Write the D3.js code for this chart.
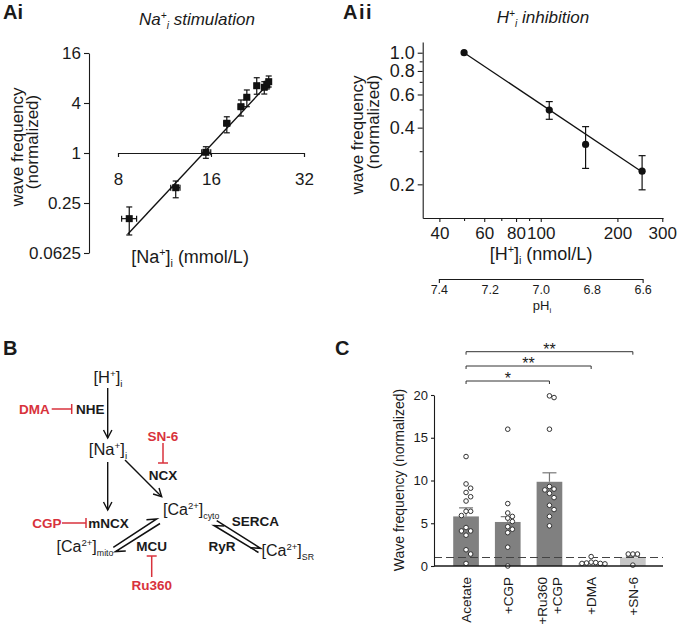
<!DOCTYPE html>
<html><head><meta charset="utf-8">
<script src="https://cdn.jsdelivr.net/npm/d3@7"></script>
<style>body{margin:0;background:#fff}svg{display:block}text{font-family:"Liberation Sans",Arial,Helvetica,sans-serif;fill:#1a1a1a}</style>
</head><body><svg id="c" width="680" height="627"></svg>
<script>
// ---------- DATA ----------
// Panel Ai: Na+ stimulation
const naConc   = [8.7, 12.3, 15.4, 18.0, 20.0, 20.9, 22.5, 23.8, 24.25, 24.6];
const naConcLo = [8.22, 11.85, 14.93, 17.6, 19.6, 20.5, 22.1, 23.4, 23.9, 24.2];
const naConcHi = [9.19, 12.7, 15.97, 18.4, 20.4, 21.3, 22.9, 24.2, 24.6, 25.0];
const naFreq   = [0.162, 0.382, 1.02, 2.28, 3.61, 4.69, 6.46, 6.19, 6.59, 7.22];
const naFreqLo = [0.103, 0.289, 0.863, 1.75, 2.79, 3.61, 5.1, 5.13, 5.9, 6.23];
const naFreqHi = [0.224, 0.46, 1.19, 2.73, 4.35, 5.74, 8.06, 7.22, 7.3, 8.46];
const naFitConc = [8.6, 23.6];
const naFitFreq = [0.105, 5.85];
const naTicksY = [0.0625, 0.25, 1, 4, 16];
const naTickLabelsY = ["0.0625", "0.25", "1", "4", "16"];
const naTicksX = [8, 16, 32];

// Panel Aii: H+ inhibition
const hConc   = [50, 108, 150, 250];
const hFreq   = [1.0, 0.496, 0.326, 0.235];
const hFreqLo = [1.0, 0.443, 0.243, 0.187];
const hFreqHi = [1.0, 0.55, 0.405, 0.284];
const hFitConc = [50, 246];
const hFitFreq = [1.0, 0.236];
const hTicksY = [0.2, 0.3, 0.4, 0.5, 0.6, 0.7, 0.8, 0.9, 1.0];
const hLabeledY = [0.2, 0.4, 0.6, 0.8, 1.0];
const hTicksX = [40, 50, 60, 70, 80, 90, 100, 200, 300];
const hLabeledX = [40, 60, 80, 100, 200, 300];
const phTicks = [7.4, 7.2, 7.0, 6.8, 6.6];

// Panel C
const cats = ["Acetate", "+CGP", "+Ru360 +CGP", "+DMA", "+SN-6"];
const catLines = [["Acetate"], ["+CGP"], ["+Ru360", "+CGP"], ["+DMA"], ["+SN-6"]];
const means = [5.8, 5.15, 9.85, 0.35, 1.0];
const sems  = [1.0, 0.62, 1.05, 0.1, 0.15];
const acetateDots = [12.8, 9.6, 9.1, 8.6, 8.1, 7.6, 6.4, 6.4, 5.9, 4.5, 4.1, 4.1, 3.6, 1.9, 1.4, 0.3];
const cgpDots     = [16.0, 7.3, 6.2, 5.8, 5.6, 5.2, 4.6, 4.3, 3.9, 2.2, 0.0];
const ruCgpDots   = [19.9, 19.7, 16.0, 9.3, 9.0, 8.9, 8.5, 8.0, 7.1, 6.6, 5.8, 4.7];
const dmaDots     = [1.1, 0.45, 0.4, 0.35, 0.3, 0.3, 0.25];
const sn6Dots     = [1.4, 1.4, 1.4, 0.1];
const groupDots = [acetateDots, cgpDots, ruCgpDots, dmaDots, sn6Dots];
const cTicks = [0, 5, 10, 15, 20];
const sigPairs = [["Acetate", "+Ru360 +CGP", "*"], ["Acetate", "+DMA", "**"], ["Acetate", "+SN-6", "**"]];

// ---------- HELPERS ----------
const svg = d3.select("#c");
const RED = "#d8323c";
function rich(sel, segs, size) {
  let shift = 0;
  segs.forEach(s => {
    const sh = s.sup ? -0.38 * size : s.sub ? 0.24 * size : 0;
    const fs = (s.sup || s.sub) ? size * (s.scale || 0.6) : size;
    sel.append("tspan").attr("font-size", fs).attr("dy", sh - shift).text(s.t);
    shift = sh;
  });
  return sel;
}
function label(x, y, segs, size, opts = {}) {
  const t = svg.append("text").attr("x", x).attr("y", y)
    .attr("text-anchor", opts.anchor || "start")
    .attr("font-size", size)
    .attr("font-weight", opts.bold ? "bold" : null)
    .attr("font-style", opts.italic ? "italic" : null)
    .attr("letter-spacing", opts.ls || null)
    .style("fill", opts.color || "#1a1a1a");
  if (opts.rotate) t.attr("transform", `rotate(${opts.rotate},${x},${y})`);
  if (typeof segs === "string") t.text(segs); else rich(t, segs, size);
  return t;
}
function styleAxis(g, fs) {
  g.selectAll("path,line").attr("stroke", "#1a1a1a").attr("stroke-width", 1.1);
  g.selectAll("text").attr("font-size", fs).style("fill", "#1a1a1a")
    .attr("font-family", '"Liberation Sans",Arial,sans-serif');
}

// ---------- PANEL Ai ----------
const xNa = d3.scaleLog().base(2).domain([8, 32]).range([118, 304]);
const yNa = d3.scaleLog().base(2).domain([0.0625, 16]).range([253, 53]);
{
  const gy = svg.append("g").attr("transform", "translate(89,0)")
    .call(d3.axisLeft(yNa).tickValues(naTicksY).tickFormat((d, i) => naTickLabelsY[i]).tickSize(5).tickSizeOuter(0).tickPadding(3));
  styleAxis(gy, 17);
  const gx = svg.append("g").attr("transform", `translate(0,${yNa(1)})`)
    .call(d3.axisBottom(xNa).tickValues(naTicksX).tickFormat(d3.format("d")).tickSize(4).tickSizeOuter(4).tickPadding(16));
  styleAxis(gx, 17);
  const g = svg.append("g");
  g.append("path").datum(naFitConc.map((c, i) => [c, naFitFreq[i]]))
    .attr("d", d3.line().x(d => xNa(d[0])).y(d => yNa(d[1])))
    .attr("stroke", "#111").attr("stroke-width", 1.4).attr("fill", "none");
  naConc.forEach((c, i) => {
    const x = xNa(c), y = yNa(naFreq[i]);
    const y1 = yNa(naFreqLo[i]), y2 = yNa(naFreqHi[i]);
    const x1 = xNa(naConcLo[i]), x2 = xNa(naConcHi[i]);
    const e = g.append("g").attr("stroke", "#111").attr("stroke-width", 1.2);
    e.append("line").attr("x1", x).attr("x2", x).attr("y1", y1).attr("y2", y2);
    e.append("line").attr("x1", x - 3).attr("x2", x + 3).attr("y1", y1).attr("y2", y1);
    e.append("line").attr("x1", x - 3).attr("x2", x + 3).attr("y1", y2).attr("y2", y2);
    e.append("line").attr("x1", x1).attr("x2", x2).attr("y1", y).attr("y2", y);
    e.append("line").attr("x1", x1).attr("x2", x1).attr("y1", y - 3).attr("y2", y + 3);
    e.append("line").attr("x1", x2).attr("x2", x2).attr("y1", y - 3).attr("y2", y + 3);
    g.append("rect").attr("x", x - 3.5).attr("y", y - 3.5).attr("width", 7).attr("height", 7).attr("fill", "#111");
  });
  label(3, 19, "Ai", 20, { bold: true });
  label(197, 25, [{ t: "Na" }, { t: "+", sup: 1 }, { t: "i", sub: 1 }, { t: " stimulation" }], 17, { anchor: "middle", italic: true });
  label(23, 147, "wave frequency", 17, { anchor: "middle", rotate: -90 });
  label(38, 142, "(normalized)", 17, { anchor: "middle", rotate: -90 });
  label(190, 263, [{ t: "[Na" }, { t: "+", sup: 1 }, { t: "]" }, { t: "i", sub: 1 }, { t: " (mmol/L)" }], 18, { anchor: "middle" });
}

// ---------- PANEL Aii ----------
const xH = d3.scaleLog().domain([34.4, 302]).range([422.7, 663]);
const yH = d3.scaleLog().domain([0.1325, 1.14]).range([218, 42]);
const xPH = d3.scaleLinear().domain([7.4, 6.6]).range([xH(Math.pow(10, 9 - 7.4)), xH(Math.pow(10, 9 - 6.6))]);
{
  const gy = svg.append("g").attr("transform", "translate(422.7,0)")
    .call(d3.axisLeft(yH).tickValues(hTicksY).tickFormat(d => hLabeledY.some(v => Math.abs(v - d) < 1e-9) ? d3.format(".1f")(d) : "").tickSize(5).tickSizeOuter(0).tickPadding(3));
  gy.selectAll(".tick").filter(d => !hLabeledY.some(v => Math.abs(v - d) < 1e-9)).select("line").attr("x2", -3);
  styleAxis(gy, 18);
  const gx = svg.append("g").attr("transform", "translate(0,218)")
    .call(d3.axisBottom(xH).tickValues(hTicksX).tickFormat(d => hLabeledX.includes(d) ? d : "").tickSize(4).tickSizeOuter(0).tickPadding(5));
  gx.selectAll(".tick").filter(d => !hLabeledX.includes(d)).select("line").attr("y2", 3);
  styleAxis(gx, 17);
  const gp = svg.append("g").attr("transform", "translate(0,279)")
    .call(d3.axisBottom(xPH).tickValues(phTicks).tickFormat(d3.format(".1f")).tickSizeInner(0).tickSizeOuter(4).tickPadding(6));
  styleAxis(gp, 12.5);
  const g = svg.append("g");
  g.append("path").datum(hFitConc.map((c, i) => [c, hFitFreq[i]]))
    .attr("d", d3.line().x(d => xH(d[0])).y(d => yH(d[1])))
    .attr("stroke", "#111").attr("stroke-width", 1.3).attr("fill", "none");
  hConc.forEach((c, i) => {
    const x = xH(c), y = yH(hFreq[i]), y1 = yH(hFreqLo[i]), y2 = yH(hFreqHi[i]);
    if (Math.abs(y1 - y2) > 1) {
      const e = g.append("g").attr("stroke", "#111").attr("stroke-width", 1.2);
      e.append("line").attr("x1", x).attr("x2", x).attr("y1", y1).attr("y2", y2);
      e.append("line").attr("x1", x - 3.5).attr("x2", x + 3.5).attr("y1", y1).attr("y2", y1);
      e.append("line").attr("x1", x - 3.5).attr("x2", x + 3.5).attr("y1", y2).attr("y2", y2);
    }
    g.append("circle").attr("cx", x).attr("cy", y).attr("r", 3.6).attr("fill", "#111");
  });
  label(343, 19, "Aii", 20, { bold: true, ls: 1.5 });
  label(543, 23, [{ t: "H" }, { t: "+", sup: 1 }, { t: "i", sub: 1 }, { t: " inhibition" }], 17, { anchor: "middle", italic: true });
  label(363, 135, "wave frequency", 17, { anchor: "middle", rotate: -90 });
  label(379, 122, "(normalized)", 17, { anchor: "middle", rotate: -90 });
  label(541, 260, [{ t: "[H" }, { t: "+", sup: 1 }, { t: "]" }, { t: "i", sub: 1 }, { t: " (nmol/L)" }], 18, { anchor: "middle" });
  label(542, 310, [{ t: "pH" }, { t: "i", sub: 1 }], 13, { anchor: "middle" });
}

// ---------- PANEL B (diagram) ----------
{
  const g = svg.append("g");
  function arrowLine(x1, y1, x2, y2) {
    const dx = x2 - x1, dy = y2 - y1, L = Math.hypot(dx, dy), ux = dx / L, uy = dy / L;
    g.append("line").attr("x1", x1).attr("y1", y1).attr("x2", x2).attr("y2", y2).attr("stroke", "#111").attr("stroke-width", 1.4);
    const a = 8, w = 4.2;
    g.append("path").attr("d", `M${x2 - ux * a - uy * w},${y2 - uy * a + ux * w}L${x2},${y2}L${x2 - ux * a + uy * w},${y2 - uy * a - ux * w}`)
      .attr("fill", "none").attr("stroke", "#111").attr("stroke-width", 1.4);
  }
  function harpoon(x1, y1, x2, y2, side) {
    const dx = x2 - x1, dy = y2 - y1, L = Math.hypot(dx, dy), ux = dx / L, uy = dy / L;
    const nx = -uy * side, ny = ux * side, a = 9, w = 5;
    g.append("path").attr("d", `M${x1},${y1}L${x2},${y2}L${x2 - ux * a + nx * w},${y2 - uy * a + ny * w}`)
      .attr("fill", "none").attr("stroke", "#111").attr("stroke-width", 1.5);
  }
  function inhib(x1, y1, x2, y2) {
    const dx = x2 - x1, dy = y2 - y1, L = Math.hypot(dx, dy), ux = dx / L, uy = dy / L, w = 5;
    g.append("line").attr("x1", x1).attr("y1", y1).attr("x2", x2).attr("y2", y2).attr("stroke", RED).attr("stroke-width", 1.5);
    g.append("line").attr("x1", x2 - uy * w).attr("y1", y2 + ux * w).attr("x2", x2 + uy * w).attr("y2", y2 - ux * w).attr("stroke", RED).attr("stroke-width", 1.5);
  }
  arrowLine(107.7, 388, 107.7, 438);
  arrowLine(107.7, 462, 107.7, 510);
  arrowLine(125, 460, 161.7, 496.7);
  inhib(51.7, 409, 71.7, 409);
  inhib(163, 443, 163, 463);
  inhib(62, 523, 86, 523);
  inhib(151.7, 577, 151.7, 556);
  harpoon(113.3, 547.3, 156.7, 519, -1);
  harpoon(160, 523.5, 115.5, 551.5, -1);
  harpoon(216.7, 520.7, 260.5, 548.3, 1);
  harpoon(258.5, 552.5, 214, 525.5, 1);

  label(3, 355, "B", 20, { bold: true });
  label(108, 383, [{ t: "[H" }, { t: "+", sup: 1 }, { t: "]" }, { t: "i", sub: 1 }], 16.5, { anchor: "middle" });
  label(108, 455, [{ t: "[Na" }, { t: "+", sup: 1 }, { t: "]" }, { t: "i", sub: 1 }], 16.5, { anchor: "middle" });
  label(163, 515, [{ t: "[Ca" }, { t: "2+", sup: 1 }, { t: "]" }, { t: "cyto", sub: 1, scale: 0.55 }], 16);
  label(56.5, 552, [{ t: "[Ca" }, { t: "2+", sup: 1 }, { t: "]" }, { t: "mito", sub: 1, scale: 0.55 }], 16);
  label(261.5, 556, [{ t: "[Ca" }, { t: "2+", sup: 1 }, { t: "]" }, { t: "SR", sub: 1, scale: 0.55 }], 16);
  label(19, 414, "DMA", 13.5, { bold: true, color: RED });
  label(76, 414, "NHE", 13.5, { bold: true });
  label(163, 441, "SN-6", 13.5, { bold: true, color: RED, anchor: "middle" });
  label(163, 479.5, "NCX", 13.5, { bold: true, anchor: "middle" });
  label(32.3, 527.5, "CGP", 13.5, { bold: true, color: RED });
  label(88.3, 527.5, "mNCX", 13.5, { bold: true });
  label(151.7, 551, "MCU", 13.5, { bold: true, anchor: "middle" });
  label(151.7, 589.5, "Ru360", 13.5, { bold: true, color: RED, anchor: "middle" });
  label(255.5, 526, "SERCA", 13.5, { bold: true, anchor: "middle" });
  label(222, 551, "RyR", 13.5, { bold: true, anchor: "middle" });
}

// ---------- PANEL C ----------
const yC = d3.scaleLinear().domain([0, 20]).range([566, 395]);
const xC = d3.scaleBand().domain(cats).range([445.2, 653.7]).paddingInner(0.384).paddingOuter(0.192);
{
  const g = svg.append("g");
  const bw = xC.bandwidth();
  cats.forEach((c, i) => {
    g.append("rect").attr("x", xC(c)).attr("y", yC(means[i])).attr("width", bw).attr("height", yC(0) - yC(means[i]))
      .attr("fill", i < 3 ? "#808080" : "#c6c6c6");
    const cx = xC(c) + bw / 2, yt = yC(means[i] + sems[i]);
    g.append("line").attr("x1", cx).attr("x2", cx).attr("y1", yC(means[i])).attr("y2", yt).attr("stroke", "#777").attr("stroke-width", 1.2);
    g.append("line").attr("x1", cx - 7).attr("x2", cx + 7).attr("y1", yt).attr("y2", yt).attr("stroke", "#777").attr("stroke-width", 1.2);
  });
  g.append("line").attr("x1", 434).attr("x2", 663).attr("y1", yC(1)).attr("y2", yC(1))
    .attr("stroke", "#444").attr("stroke-width", 1.1).attr("stroke-dasharray", "8,4");
  const step = 4.6;
  cats.forEach((c, i) => {
    const cx = xC(c) + bw / 2, placed = [];
    groupDots[i].forEach(v => {
      const y = yC(v);
      const order = [0, 1, -1, 2, -2, 3, -3, 4, -4];
      let k = order.find(k => !placed.some(p => p.k === k && Math.abs(p.y - y) < 4.6));
      if (k === undefined) k = 0;
      placed.push({ k, y });
      g.append("circle").attr("cx", cx + k * step).attr("cy", y).attr("r", 2.3)
        .attr("fill", "#fff").attr("stroke", "#333").attr("stroke-width", 1);
    });
  });
  const gy = svg.append("g").attr("transform", "translate(434,0)")
    .call(d3.axisLeft(yC).tickValues(cTicks).tickSize(3).tickSizeOuter(0).tickPadding(3));
  styleAxis(gy, 13);
  svg.append("line").attr("x1", 434).attr("x2", 663).attr("y1", yC(0)).attr("y2", yC(0)).attr("stroke", "#1a1a1a").attr("stroke-width", 1.3);
  cats.forEach((c, i) => {
    const lines = catLines[i], n = lines.length;
    lines.forEach((t, j) => {
      const x = xC(c) + bw / 2 + (j - (n - 1) / 2) * 15 + 5;
      label(x, 577, t, 13.5, { anchor: "end", rotate: -90 });
    });
  });
  const sigY = [381, 366, 351.7];
  sigPairs.forEach((p, i) => {
    const x1 = xC(p[0]) + bw / 2, x2 = xC(p[1]) + bw / 2, y = sigY[i];
    svg.append("path").attr("d", `M${x1},${y + 3}V${y}H${x2}V${y + 3}`).attr("fill", "none").attr("stroke", "#333").attr("stroke-width", 1);
    label((x1 + x2) / 2, y + 3, p[2], 16, { anchor: "middle" });
  });
  label(335, 355, "C", 20, { bold: true });
  label(404, 480, "Wave frequency (normalized)", 14, { anchor: "middle", rotate: -90 });
}
</script></body></html>
